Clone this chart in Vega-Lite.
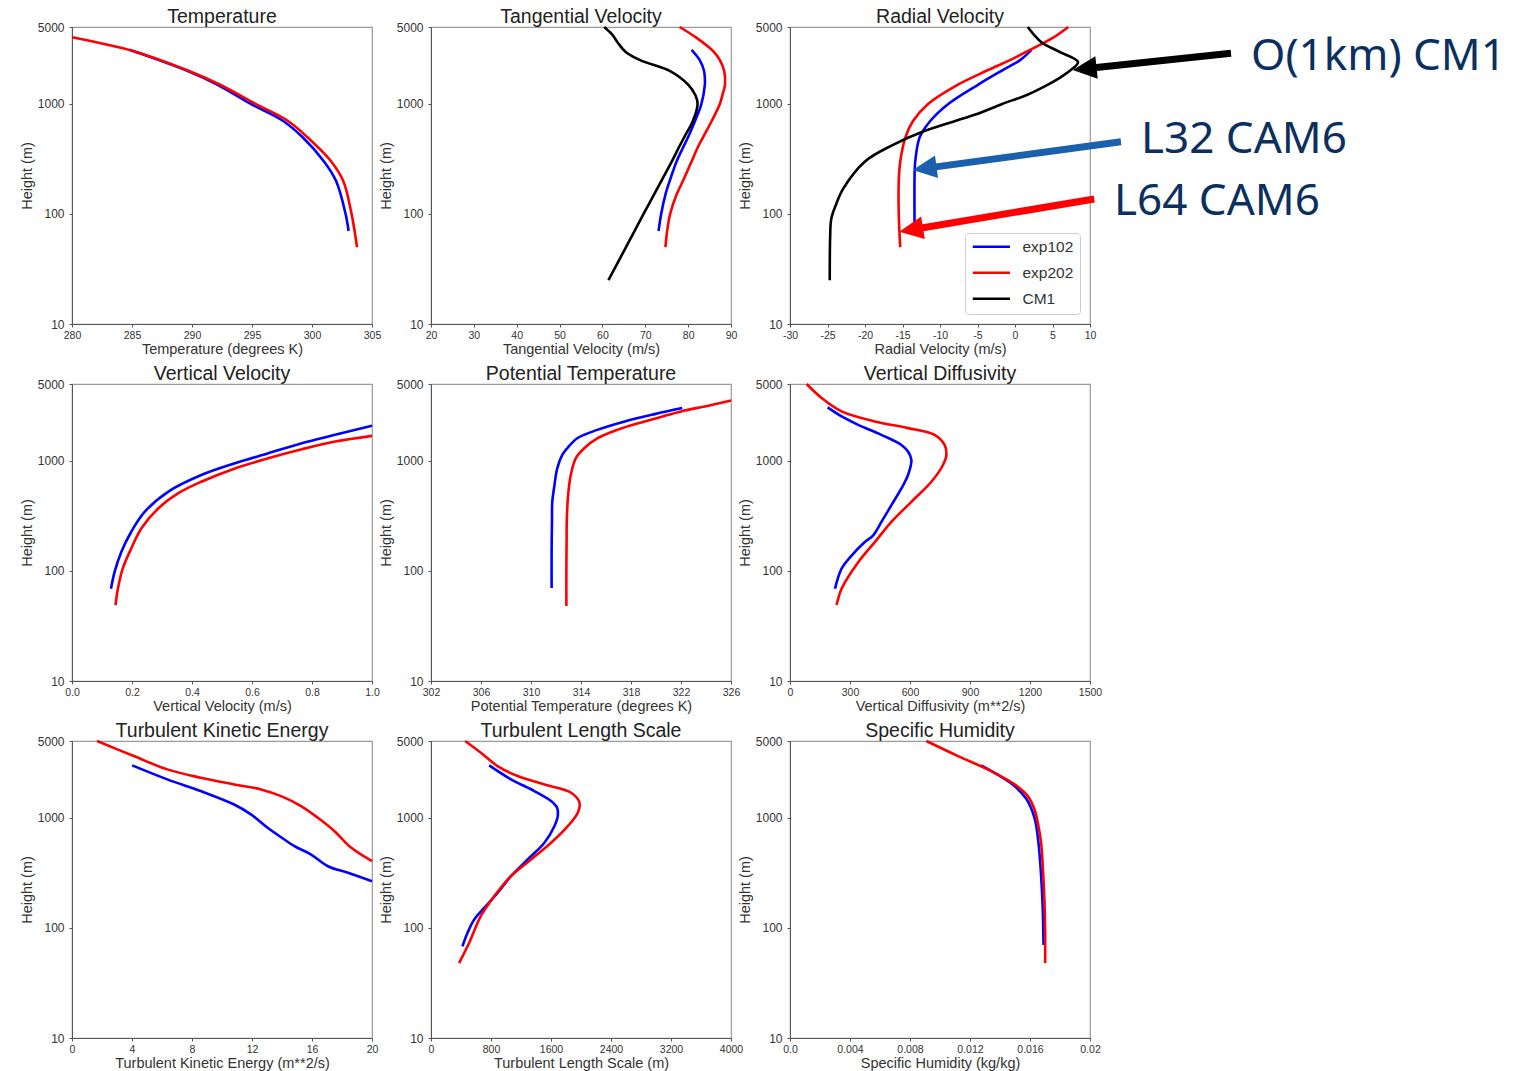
{
  "$schema": "https://vega.github.io/schema/vega-lite/v6.json",
  "background": "white",
  "padding": {"left": 18, "top": 5, "right": 5, "bottom": 3},
  "config": {
    "font": "Liberation Sans",
    "view": {"stroke": "#9a9a9a", "strokeWidth": 1.2},
    "axis": {"labelFont": "Liberation Sans", "labelColor": "#333", "titleFont": "Liberation Sans", "titleFontSize": 14.5, "titleFontWeight": "normal", "titleColor": "#333", "grid": false, "tickSize": 3, "tickColor": "#555", "domainColor": "#555", "labelFlush": false, "labelOverlap": false},
    "axisX": {"labelFontSize": 10.5, "labelPadding": 3, "titlePadding": 2},
    "axisY": {"labelFontSize": 12, "labelPadding": 5, "titlePadding": 3},
    "title": {"font": "Liberation Sans", "fontSize": 19.5, "fontWeight": "normal", "color": "#222", "offset": -6},
    "line": {"strokeWidth": 2.6, "interpolate": "catmull-rom"}
  },
  "datasets": {
    "prof": [
      {"p": "T", "s": "exp102", "h": 3100, "v": 284.8},
      {"p": "T", "s": "exp102", "h": 2000, "v": 289.6},
      {"p": "T", "s": "exp102", "h": 1500, "v": 292.1},
      {"p": "T", "s": "exp102", "h": 1000, "v": 294.9},
      {"p": "T", "s": "exp102", "h": 700, "v": 297.6},
      {"p": "T", "s": "exp102", "h": 500, "v": 299.2},
      {"p": "T", "s": "exp102", "h": 300, "v": 301.0},
      {"p": "T", "s": "exp102", "h": 200, "v": 302.0},
      {"p": "T", "s": "exp102", "h": 100, "v": 302.8},
      {"p": "T", "s": "exp102", "h": 70, "v": 303.05},
      {"p": "T", "s": "exp202", "h": 4030, "v": 280.0},
      {"p": "T", "s": "exp202", "h": 3000, "v": 285.2},
      {"p": "T", "s": "exp202", "h": 2000, "v": 289.7},
      {"p": "T", "s": "exp202", "h": 1500, "v": 292.3},
      {"p": "T", "s": "exp202", "h": 1000, "v": 295.3},
      {"p": "T", "s": "exp202", "h": 700, "v": 298.0},
      {"p": "T", "s": "exp202", "h": 500, "v": 299.6},
      {"p": "T", "s": "exp202", "h": 300, "v": 301.6},
      {"p": "T", "s": "exp202", "h": 200, "v": 302.6},
      {"p": "T", "s": "exp202", "h": 100, "v": 303.3},
      {"p": "T", "s": "exp202", "h": 70, "v": 303.55},
      {"p": "T", "s": "exp202", "h": 50, "v": 303.75},

      {"p": "TV", "s": "exp102", "h": 70, "v": 73.1},
      {"p": "TV", "s": "exp102", "h": 100, "v": 73.7},
      {"p": "TV", "s": "exp102", "h": 150, "v": 74.7},
      {"p": "TV", "s": "exp102", "h": 200, "v": 75.7},
      {"p": "TV", "s": "exp102", "h": 300, "v": 77.3},
      {"p": "TV", "s": "exp102", "h": 400, "v": 78.8},
      {"p": "TV", "s": "exp102", "h": 500, "v": 80.0},
      {"p": "TV", "s": "exp102", "h": 700, "v": 81.6},
      {"p": "TV", "s": "exp102", "h": 1000, "v": 83.1},
      {"p": "TV", "s": "exp102", "h": 1500, "v": 83.9},
      {"p": "TV", "s": "exp102", "h": 1700, "v": 83.9},
      {"p": "TV", "s": "exp102", "h": 2000, "v": 83.7},
      {"p": "TV", "s": "exp102", "h": 2500, "v": 82.7},
      {"p": "TV", "s": "exp102", "h": 3100, "v": 80.8},
      {"p": "TV", "s": "exp202", "h": 50, "v": 74.7},
      {"p": "TV", "s": "exp202", "h": 70, "v": 75.1},
      {"p": "TV", "s": "exp202", "h": 100, "v": 75.8},
      {"p": "TV", "s": "exp202", "h": 150, "v": 77.3},
      {"p": "TV", "s": "exp202", "h": 200, "v": 78.8},
      {"p": "TV", "s": "exp202", "h": 300, "v": 80.8},
      {"p": "TV", "s": "exp202", "h": 400, "v": 82.2},
      {"p": "TV", "s": "exp202", "h": 500, "v": 83.5},
      {"p": "TV", "s": "exp202", "h": 700, "v": 85.5},
      {"p": "TV", "s": "exp202", "h": 1000, "v": 87.4},
      {"p": "TV", "s": "exp202", "h": 1200, "v": 88.0},
      {"p": "TV", "s": "exp202", "h": 1500, "v": 88.6},
      {"p": "TV", "s": "exp202", "h": 2000, "v": 88.4},
      {"p": "TV", "s": "exp202", "h": 2500, "v": 87.4},
      {"p": "TV", "s": "exp202", "h": 3000, "v": 85.9},
      {"p": "TV", "s": "exp202", "h": 4000, "v": 81.9},
      {"p": "TV", "s": "exp202", "h": 5000, "v": 78.0},
      {"p": "TV", "s": "CM1", "h": 25, "v": 61.4},
      {"p": "TV", "s": "CM1", "h": 50, "v": 65.5},
      {"p": "TV", "s": "CM1", "h": 100, "v": 69.6},
      {"p": "TV", "s": "CM1", "h": 200, "v": 73.75},
      {"p": "TV", "s": "CM1", "h": 300, "v": 76.2},
      {"p": "TV", "s": "CM1", "h": 400, "v": 77.8},
      {"p": "TV", "s": "CM1", "h": 500, "v": 79.1},
      {"p": "TV", "s": "CM1", "h": 700, "v": 81.1},
      {"p": "TV", "s": "CM1", "h": 1000, "v": 82.2},
      {"p": "TV", "s": "CM1", "h": 1200, "v": 81.7},
      {"p": "TV", "s": "CM1", "h": 1500, "v": 80.0},
      {"p": "TV", "s": "CM1", "h": 2000, "v": 75.7},
      {"p": "TV", "s": "CM1", "h": 2500, "v": 68.8},
      {"p": "TV", "s": "CM1", "h": 3000, "v": 65.3},
      {"p": "TV", "s": "CM1", "h": 3600, "v": 63.6},
      {"p": "TV", "s": "CM1", "h": 4300, "v": 62.2},
      {"p": "TV", "s": "CM1", "h": 5000, "v": 60.4},

      {"p": "RV", "s": "exp102", "h": 70, "v": -13.4},
      {"p": "RV", "s": "exp102", "h": 100, "v": -13.4},
      {"p": "RV", "s": "exp102", "h": 200, "v": -13.4},
      {"p": "RV", "s": "exp102", "h": 300, "v": -13.3},
      {"p": "RV", "s": "exp102", "h": 500, "v": -12.7},
      {"p": "RV", "s": "exp102", "h": 700, "v": -11.3},
      {"p": "RV", "s": "exp102", "h": 1000, "v": -8.9},
      {"p": "RV", "s": "exp102", "h": 1500, "v": -4.9},
      {"p": "RV", "s": "exp102", "h": 2000, "v": -1.8},
      {"p": "RV", "s": "exp102", "h": 2500, "v": 0.67},
      {"p": "RV", "s": "exp102", "h": 3100, "v": 2.2},
      {"p": "RV", "s": "exp202", "h": 50, "v": -15.3},
      {"p": "RV", "s": "exp202", "h": 100, "v": -15.5},
      {"p": "RV", "s": "exp202", "h": 200, "v": -15.5},
      {"p": "RV", "s": "exp202", "h": 300, "v": -15.3},
      {"p": "RV", "s": "exp202", "h": 500, "v": -14.6},
      {"p": "RV", "s": "exp202", "h": 700, "v": -13.6},
      {"p": "RV", "s": "exp202", "h": 1000, "v": -11.6},
      {"p": "RV", "s": "exp202", "h": 1500, "v": -7.6},
      {"p": "RV", "s": "exp202", "h": 2000, "v": -3.8},
      {"p": "RV", "s": "exp202", "h": 2500, "v": -0.67},
      {"p": "RV", "s": "exp202", "h": 3000, "v": 1.6},
      {"p": "RV", "s": "exp202", "h": 4000, "v": 5.1},
      {"p": "RV", "s": "exp202", "h": 5000, "v": 7.1},
      {"p": "RV", "s": "CM1", "h": 25, "v": -24.7},
      {"p": "RV", "s": "CM1", "h": 60, "v": -24.65},
      {"p": "RV", "s": "CM1", "h": 90, "v": -24.5},
      {"p": "RV", "s": "CM1", "h": 120, "v": -23.9},
      {"p": "RV", "s": "CM1", "h": 170, "v": -22.9},
      {"p": "RV", "s": "CM1", "h": 300, "v": -20.0},
      {"p": "RV", "s": "CM1", "h": 420, "v": -16.4},
      {"p": "RV", "s": "CM1", "h": 570, "v": -12.0},
      {"p": "RV", "s": "CM1", "h": 800, "v": -5.3},
      {"p": "RV", "s": "CM1", "h": 1000, "v": -1.7},
      {"p": "RV", "s": "CM1", "h": 1200, "v": 1.5},
      {"p": "RV", "s": "CM1", "h": 1500, "v": 4.4},
      {"p": "RV", "s": "CM1", "h": 1700, "v": 5.8},
      {"p": "RV", "s": "CM1", "h": 2000, "v": 7.3},
      {"p": "RV", "s": "CM1", "h": 2400, "v": 8.4},
      {"p": "RV", "s": "CM1", "h": 3000, "v": 5.8},
      {"p": "RV", "s": "CM1", "h": 3600, "v": 3.6},
      {"p": "RV", "s": "CM1", "h": 4200, "v": 2.6},
      {"p": "RV", "s": "CM1", "h": 5000, "v": 1.7},

      {"p": "VV", "s": "exp102", "h": 69, "v": 0.130},
      {"p": "VV", "s": "exp102", "h": 98, "v": 0.142},
      {"p": "VV", "s": "exp102", "h": 148, "v": 0.164},
      {"p": "VV", "s": "exp102", "h": 226, "v": 0.197},
      {"p": "VV", "s": "exp102", "h": 344, "v": 0.242},
      {"p": "VV", "s": "exp102", "h": 524, "v": 0.320},
      {"p": "VV", "s": "exp102", "h": 744, "v": 0.431},
      {"p": "VV", "s": "exp102", "h": 951, "v": 0.543},
      {"p": "VV", "s": "exp102", "h": 1172, "v": 0.654},
      {"p": "VV", "s": "exp102", "h": 1448, "v": 0.766},
      {"p": "VV", "s": "exp102", "h": 1725, "v": 0.877},
      {"p": "VV", "s": "exp102", "h": 2084, "v": 1.0},
      {"p": "VV", "s": "exp202", "h": 49, "v": 0.145},
      {"p": "VV", "s": "exp202", "h": 69, "v": 0.153},
      {"p": "VV", "s": "exp202", "h": 105, "v": 0.169},
      {"p": "VV", "s": "exp202", "h": 159, "v": 0.197},
      {"p": "VV", "s": "exp202", "h": 243, "v": 0.231},
      {"p": "VV", "s": "exp202", "h": 369, "v": 0.287},
      {"p": "VV", "s": "exp202", "h": 506, "v": 0.353},
      {"p": "VV", "s": "exp202", "h": 647, "v": 0.431},
      {"p": "VV", "s": "exp202", "h": 855, "v": 0.543},
      {"p": "VV", "s": "exp202", "h": 1057, "v": 0.654},
      {"p": "VV", "s": "exp202", "h": 1276, "v": 0.766},
      {"p": "VV", "s": "exp202", "h": 1500, "v": 0.877},
      {"p": "VV", "s": "exp202", "h": 1690, "v": 1.0},

      {"p": "PT", "s": "exp102", "h": 70, "v": 311.65},
      {"p": "PT", "s": "exp102", "h": 150, "v": 311.65},
      {"p": "PT", "s": "exp102", "h": 300, "v": 311.68},
      {"p": "PT", "s": "exp102", "h": 425, "v": 311.7},
      {"p": "PT", "s": "exp102", "h": 562, "v": 311.84},
      {"p": "PT", "s": "exp102", "h": 855, "v": 312.1},
      {"p": "PT", "s": "exp102", "h": 1133, "v": 312.5},
      {"p": "PT", "s": "exp102", "h": 1303, "v": 312.9},
      {"p": "PT", "s": "exp102", "h": 1607, "v": 313.7},
      {"p": "PT", "s": "exp102", "h": 1914, "v": 315.3},
      {"p": "PT", "s": "exp102", "h": 2284, "v": 317.5},
      {"p": "PT", "s": "exp102", "h": 2662, "v": 319.9},
      {"p": "PT", "s": "exp102", "h": 3020, "v": 322.1},
      {"p": "PT", "s": "exp202", "h": 48, "v": 312.83},
      {"p": "PT", "s": "exp202", "h": 100, "v": 312.83},
      {"p": "PT", "s": "exp202", "h": 200, "v": 312.85},
      {"p": "PT", "s": "exp202", "h": 279, "v": 312.86},
      {"p": "PT", "s": "exp202", "h": 489, "v": 312.97},
      {"p": "PT", "s": "exp202", "h": 744, "v": 313.18},
      {"p": "PT", "s": "exp202", "h": 1057, "v": 313.58},
      {"p": "PT", "s": "exp202", "h": 1303, "v": 314.26},
      {"p": "PT", "s": "exp202", "h": 1607, "v": 315.33},
      {"p": "PT", "s": "exp202", "h": 1914, "v": 316.9},
      {"p": "PT", "s": "exp202", "h": 2284, "v": 319.1},
      {"p": "PT", "s": "exp202", "h": 2818, "v": 322.0},
      {"p": "PT", "s": "exp202", "h": 3126, "v": 323.9},
      {"p": "PT", "s": "exp202", "h": 3548, "v": 326.0},

      {"p": "VD", "s": "exp102", "h": 69, "v": 225},
      {"p": "VD", "s": "exp102", "h": 105, "v": 258},
      {"p": "VD", "s": "exp102", "h": 138, "v": 308},
      {"p": "VD", "s": "exp102", "h": 183, "v": 374},
      {"p": "VD", "s": "exp102", "h": 211, "v": 416},
      {"p": "VD", "s": "exp102", "h": 279, "v": 457},
      {"p": "VD", "s": "exp102", "h": 396, "v": 507},
      {"p": "VD", "s": "exp102", "h": 562, "v": 557},
      {"p": "VD", "s": "exp102", "h": 744, "v": 590},
      {"p": "VD", "s": "exp102", "h": 1020, "v": 607},
      {"p": "VD", "s": "exp102", "h": 1216, "v": 590},
      {"p": "VD", "s": "exp102", "h": 1397, "v": 557},
      {"p": "VD", "s": "exp102", "h": 1725, "v": 457},
      {"p": "VD", "s": "exp102", "h": 2128, "v": 341},
      {"p": "VD", "s": "exp102", "h": 2537, "v": 258},
      {"p": "VD", "s": "exp102", "h": 3062, "v": 188},
      {"p": "VD", "s": "exp202", "h": 49, "v": 233},
      {"p": "VD", "s": "exp202", "h": 69, "v": 258},
      {"p": "VD", "s": "exp202", "h": 120, "v": 341},
      {"p": "VD", "s": "exp202", "h": 183, "v": 424},
      {"p": "VD", "s": "exp202", "h": 279, "v": 507},
      {"p": "VD", "s": "exp202", "h": 425, "v": 607},
      {"p": "VD", "s": "exp202", "h": 647, "v": 707},
      {"p": "VD", "s": "exp202", "h": 918, "v": 765},
      {"p": "VD", "s": "exp202", "h": 1133, "v": 782},
      {"p": "VD", "s": "exp202", "h": 1397, "v": 773},
      {"p": "VD", "s": "exp202", "h": 1725, "v": 723},
      {"p": "VD", "s": "exp202", "h": 1986, "v": 590},
      {"p": "VD", "s": "exp202", "h": 2284, "v": 424},
      {"p": "VD", "s": "exp202", "h": 2818, "v": 258},
      {"p": "VD", "s": "exp202", "h": 3732, "v": 158},
      {"p": "VD", "s": "exp202", "h": 5000, "v": 83},

      {"p": "TKE", "s": "exp102", "h": 266, "v": 20.0},
      {"p": "TKE", "s": "exp102", "h": 317, "v": 18.4},
      {"p": "TKE", "s": "exp102", "h": 364, "v": 17.06},
      {"p": "TKE", "s": "exp102", "h": 465, "v": 15.94},
      {"p": "TKE", "s": "exp102", "h": 553, "v": 14.83},
      {"p": "TKE", "s": "exp102", "h": 637, "v": 14.16},
      {"p": "TKE", "s": "exp102", "h": 813, "v": 13.04},
      {"p": "TKE", "s": "exp102", "h": 1076, "v": 11.93},
      {"p": "TKE", "s": "exp102", "h": 1324, "v": 10.81},
      {"p": "TKE", "s": "exp102", "h": 1754, "v": 8.58},
      {"p": "TKE", "s": "exp102", "h": 2240, "v": 6.35},
      {"p": "TKE", "s": "exp102", "h": 3000, "v": 4.01},
      {"p": "TKE", "s": "exp202", "h": 405, "v": 20.0},
      {"p": "TKE", "s": "exp202", "h": 535, "v": 18.62},
      {"p": "TKE", "s": "exp202", "h": 758, "v": 17.5},
      {"p": "TKE", "s": "exp202", "h": 1002, "v": 16.39},
      {"p": "TKE", "s": "exp202", "h": 1280, "v": 15.27},
      {"p": "TKE", "s": "exp202", "h": 1578, "v": 13.94},
      {"p": "TKE", "s": "exp202", "h": 1815, "v": 12.6},
      {"p": "TKE", "s": "exp202", "h": 2016, "v": 10.81},
      {"p": "TKE", "s": "exp202", "h": 2318, "v": 8.58},
      {"p": "TKE", "s": "exp202", "h": 2761, "v": 6.35},
      {"p": "TKE", "s": "exp202", "h": 3648, "v": 4.12},
      {"p": "TKE", "s": "exp202", "h": 5000, "v": 1.67},

      {"p": "TLS", "s": "exp102", "h": 68, "v": 419},
      {"p": "TLS", "s": "exp102", "h": 90, "v": 486},
      {"p": "TLS", "s": "exp102", "h": 119, "v": 575},
      {"p": "TLS", "s": "exp102", "h": 152, "v": 709},
      {"p": "TLS", "s": "exp102", "h": 208, "v": 887},
      {"p": "TLS", "s": "exp102", "h": 296, "v": 1066},
      {"p": "TLS", "s": "exp102", "h": 419, "v": 1289},
      {"p": "TLS", "s": "exp102", "h": 594, "v": 1512},
      {"p": "TLS", "s": "exp102", "h": 841, "v": 1645},
      {"p": "TLS", "s": "exp102", "h": 1038, "v": 1690},
      {"p": "TLS", "s": "exp102", "h": 1237, "v": 1681},
      {"p": "TLS", "s": "exp102", "h": 1422, "v": 1601},
      {"p": "TLS", "s": "exp102", "h": 1754, "v": 1378},
      {"p": "TLS", "s": "exp102", "h": 2240, "v": 1066},
      {"p": "TLS", "s": "exp102", "h": 3000, "v": 776},
      {"p": "TLS", "s": "exp202", "h": 48, "v": 375},
      {"p": "TLS", "s": "exp202", "h": 73, "v": 508},
      {"p": "TLS", "s": "exp202", "h": 128, "v": 664},
      {"p": "TLS", "s": "exp202", "h": 194, "v": 843},
      {"p": "TLS", "s": "exp202", "h": 296, "v": 1066},
      {"p": "TLS", "s": "exp202", "h": 419, "v": 1333},
      {"p": "TLS", "s": "exp202", "h": 594, "v": 1601},
      {"p": "TLS", "s": "exp202", "h": 841, "v": 1824},
      {"p": "TLS", "s": "exp202", "h": 1114, "v": 1957},
      {"p": "TLS", "s": "exp202", "h": 1374, "v": 1980},
      {"p": "TLS", "s": "exp202", "h": 1694, "v": 1868},
      {"p": "TLS", "s": "exp202", "h": 2016, "v": 1512},
      {"p": "TLS", "s": "exp202", "h": 2400, "v": 1155},
      {"p": "TLS", "s": "exp202", "h": 2960, "v": 887},
      {"p": "TLS", "s": "exp202", "h": 3916, "v": 664},
      {"p": "TLS", "s": "exp202", "h": 5000, "v": 455},

      {"p": "Q", "s": "exp102", "h": 70, "v": 0.0169},
      {"p": "Q", "s": "exp102", "h": 150, "v": 0.01685},
      {"p": "Q", "s": "exp102", "h": 300, "v": 0.01674},
      {"p": "Q", "s": "exp102", "h": 600, "v": 0.01656},
      {"p": "Q", "s": "exp102", "h": 1000, "v": 0.0163},
      {"p": "Q", "s": "exp102", "h": 1500, "v": 0.01574},
      {"p": "Q", "s": "exp102", "h": 2000, "v": 0.01486},
      {"p": "Q", "s": "exp102", "h": 3000, "v": 0.01275},
      {"p": "Q", "s": "exp202", "h": 48, "v": 0.01701},
      {"p": "Q", "s": "exp202", "h": 90, "v": 0.01701},
      {"p": "Q", "s": "exp202", "h": 181, "v": 0.01696},
      {"p": "Q", "s": "exp202", "h": 364, "v": 0.01685},
      {"p": "Q", "s": "exp202", "h": 594, "v": 0.01674},
      {"p": "Q", "s": "exp202", "h": 903, "v": 0.01652},
      {"p": "Q", "s": "exp202", "h": 1194, "v": 0.0163},
      {"p": "Q", "s": "exp202", "h": 1578, "v": 0.01585},
      {"p": "Q", "s": "exp202", "h": 2016, "v": 0.01497},
      {"p": "Q", "s": "exp202", "h": 2667, "v": 0.01341},
      {"p": "Q", "s": "exp202", "h": 3648, "v": 0.0112},
      {"p": "Q", "s": "exp202", "h": 5000, "v": 0.00909}
    ],
    "arrows": [
      {"name": "CM1", "v": 28.8, "h": 2884, "v2": 9.28, "h2": 2088},
      {"name": "L32", "v": 14.13, "h": 453.5, "v2": -12.05, "h2": 259.4},
      {"name": "L64", "v": 10.57, "h": 136.8, "v2": -13.85, "h2": 71.9}
    ],
    "heads": [
      {"name": "CM1", "v": 9.28, "h": 2088},
      {"name": "L32", "v": -12.05, "h": 259.4},
      {"name": "L64", "v": -13.85, "h": 71.9}
    ],
    "notes": [
      {"label": "O(1km) CM1", "v": 31.47, "h": 2034},
      {"label": "L32 CAM6", "v": 16.8, "h": 355.8},
      {"label": "L64 CAM6", "v": 13.2, "h": 97.8}
    ]
  },
  "columns": 3,
  "spacing": {"row": 60, "column": 59},
  "bounds": "flush",
  "resolve": {"scale": {"color": "independent", "x": "independent", "y": "independent"}, "legend": {"color": "independent"}},
  "concat": [
    {
      "width": 300, "height": 297,
      "title": "Temperature",
      "data": {"name": "prof"},
      "transform": [{"filter": "datum.p === 'T'"}],
      "mark": {"type": "line"},
      "encoding": {
        "x": {"field": "v", "type": "quantitative", "scale": {"domain": [280, 305], "nice": false, "zero": false}, "axis": {"title": "Temperature (degrees K)", "values": [280, 285, 290, 295, 300, 305]}},
        "y": {"field": "h", "type": "quantitative", "scale": {"type": "log", "domain": [10, 5000], "nice": false}, "axis": {"title": "Height (m)", "values": [10, 100, 1000, 5000], "format": "d"}},
        "color": {"field": "s", "type": "nominal", "scale": {"domain": ["exp102", "exp202", "CM1"], "range": ["#0000ff", "#ff0000", "#000000"]}, "legend": null},
        "order": {"field": "h", "type": "quantitative"}
      }
    },
    {
      "width": 300, "height": 297,
      "title": "Tangential Velocity",
      "data": {"name": "prof"},
      "transform": [{"filter": "datum.p === 'TV'"}],
      "mark": {"type": "line"},
      "encoding": {
        "x": {"field": "v", "type": "quantitative", "scale": {"domain": [20, 90], "nice": false, "zero": false}, "axis": {"title": "Tangential Velocity (m/s)", "values": [20, 30, 40, 50, 60, 70, 80, 90]}},
        "y": {"field": "h", "type": "quantitative", "scale": {"type": "log", "domain": [10, 5000], "nice": false}, "axis": {"title": "Height (m)", "values": [10, 100, 1000, 5000], "format": "d"}},
        "color": {"field": "s", "type": "nominal", "scale": {"domain": ["exp102", "exp202", "CM1"], "range": ["#0000ff", "#ff0000", "#000000"]}, "legend": null},
        "order": {"field": "h", "type": "quantitative"}
      }
    },
    {
      "width": 300, "height": 297,
      "title": "Radial Velocity",
      "encoding": {
        "x": {"field": "v", "type": "quantitative", "scale": {"domain": [-30, 10], "nice": false, "zero": false}, "axis": {"title": "Radial Velocity (m/s)", "values": [-30, -25, -20, -15, -10, -5, 0, 5, 10], "labelExpr": "datum.value < 0 ? '-' + (-datum.value) : '' + datum.value"}},
        "y": {"field": "h", "type": "quantitative", "scale": {"type": "log", "domain": [10, 5000], "nice": false}, "axis": {"title": "Height (m)", "values": [10, 100, 1000, 5000], "format": "d"}}
      },
      "layer": [
        {
          "data": {"name": "prof"},
          "transform": [{"filter": "datum.p === 'RV'"}],
          "mark": {"type": "line"},
          "encoding": {
            "color": {"field": "s", "type": "nominal", "scale": {"domain": ["exp102", "exp202", "CM1"], "range": ["#0000ff", "#ff0000", "#000000"]},
              "legend": {"title": null, "orient": "bottom-right", "offset": 10, "fillColor": "white", "strokeColor": "#cccccc", "cornerRadius": 3, "padding": 6, "rowPadding": 9, "symbolType": "M -1 0 L 5.2 0", "symbolSize": 144, "symbolStrokeWidth": 2.5, "labelFontSize": 15.5, "labelFont": "Liberation Sans", "labelColor": "#333", "labelOffset": 36}},
            "order": {"field": "h", "type": "quantitative"}
          }
        },
        {
          "data": {"name": "arrows"},
          "mark": {"type": "rule", "strokeWidth": 7, "strokeCap": "butt"},
          "encoding": {
            "x2": {"field": "v2"},
            "y2": {"field": "h2"},
            "stroke": {"field": "name", "type": "nominal", "scale": {"domain": ["CM1", "L32", "L64"], "range": ["#000000", "#1b60ad", "#ff0000"]}, "legend": null}
          }
        },
        {
          "data": {"name": "heads"},
          "transform": [{"filter": "datum.name === 'CM1'"}],
          "mark": {"type": "point", "shape": "M -1 0 L 1 -0.95 L 1 0.95 Z", "size": 576, "angle": 354, "filled": true, "fill": "#000000", "strokeWidth": 0, "opacity": 1}
        },
        {
          "data": {"name": "heads"},
          "transform": [{"filter": "datum.name === 'L32'"}],
          "mark": {"type": "point", "shape": "M -1 0 L 1 -0.95 L 1 0.95 Z", "size": 576, "angle": 352.3, "filled": true, "fill": "#1b60ad", "strokeWidth": 0, "opacity": 1}
        },
        {
          "data": {"name": "heads"},
          "transform": [{"filter": "datum.name === 'L64'"}],
          "mark": {"type": "point", "shape": "M -1 0 L 1 -0.95 L 1 0.95 Z", "size": 576, "angle": 350.5, "filled": true, "fill": "#ff0000", "strokeWidth": 0, "opacity": 1}
        },
        {
          "data": {"name": "notes"},
          "mark": {"type": "text", "align": "left", "baseline": "alphabetic", "fontSize": 44, "font": "Noto Sans", "color": "#0b2f5e"},
          "encoding": {
            "text": {"field": "label"}
          }
        }
      ]
    },
    {
      "width": 300, "height": 297,
      "title": "Vertical Velocity",
      "data": {"name": "prof"},
      "transform": [{"filter": "datum.p === 'VV'"}],
      "mark": {"type": "line"},
      "encoding": {
        "x": {"field": "v", "type": "quantitative", "scale": {"domain": [0, 1], "nice": false, "zero": false}, "axis": {"title": "Vertical Velocity (m/s)", "values": [0, 0.2, 0.4, 0.6, 0.8, 1.0], "format": ".1f"}},
        "y": {"field": "h", "type": "quantitative", "scale": {"type": "log", "domain": [10, 5000], "nice": false}, "axis": {"title": "Height (m)", "values": [10, 100, 1000, 5000], "format": "d"}},
        "color": {"field": "s", "type": "nominal", "scale": {"domain": ["exp102", "exp202", "CM1"], "range": ["#0000ff", "#ff0000", "#000000"]}, "legend": null},
        "order": {"field": "h", "type": "quantitative"}
      }
    },
    {
      "width": 300, "height": 297,
      "title": "Potential Temperature",
      "data": {"name": "prof"},
      "transform": [{"filter": "datum.p === 'PT'"}],
      "mark": {"type": "line"},
      "encoding": {
        "x": {"field": "v", "type": "quantitative", "scale": {"domain": [302, 326], "nice": false, "zero": false}, "axis": {"title": "Potential Temperature (degrees K)", "values": [302, 306, 310, 314, 318, 322, 326]}},
        "y": {"field": "h", "type": "quantitative", "scale": {"type": "log", "domain": [10, 5000], "nice": false}, "axis": {"title": "Height (m)", "values": [10, 100, 1000, 5000], "format": "d"}},
        "color": {"field": "s", "type": "nominal", "scale": {"domain": ["exp102", "exp202", "CM1"], "range": ["#0000ff", "#ff0000", "#000000"]}, "legend": null},
        "order": {"field": "h", "type": "quantitative"}
      }
    },
    {
      "width": 300, "height": 297,
      "title": "Vertical Diffusivity",
      "data": {"name": "prof"},
      "transform": [{"filter": "datum.p === 'VD'"}],
      "mark": {"type": "line"},
      "encoding": {
        "x": {"field": "v", "type": "quantitative", "scale": {"domain": [0, 1500], "nice": false, "zero": false}, "axis": {"title": "Vertical Diffusivity (m**2/s)", "values": [0, 300, 600, 900, 1200, 1500], "format": "d"}},
        "y": {"field": "h", "type": "quantitative", "scale": {"type": "log", "domain": [10, 5000], "nice": false}, "axis": {"title": "Height (m)", "values": [10, 100, 1000, 5000], "format": "d"}},
        "color": {"field": "s", "type": "nominal", "scale": {"domain": ["exp102", "exp202", "CM1"], "range": ["#0000ff", "#ff0000", "#000000"]}, "legend": null},
        "order": {"field": "h", "type": "quantitative"}
      }
    },
    {
      "width": 300, "height": 297,
      "title": "Turbulent Kinetic Energy",
      "data": {"name": "prof"},
      "transform": [{"filter": "datum.p === 'TKE'"}],
      "mark": {"type": "line"},
      "encoding": {
        "x": {"field": "v", "type": "quantitative", "scale": {"domain": [0, 20], "nice": false, "zero": false}, "axis": {"title": "Turbulent Kinetic Energy (m**2/s)", "values": [0, 4, 8, 12, 16, 20]}},
        "y": {"field": "h", "type": "quantitative", "scale": {"type": "log", "domain": [10, 5000], "nice": false}, "axis": {"title": "Height (m)", "values": [10, 100, 1000, 5000], "format": "d"}},
        "color": {"field": "s", "type": "nominal", "scale": {"domain": ["exp102", "exp202", "CM1"], "range": ["#0000ff", "#ff0000", "#000000"]}, "legend": null},
        "order": {"field": "h", "type": "quantitative"}
      }
    },
    {
      "width": 300, "height": 297,
      "title": "Turbulent Length Scale",
      "data": {"name": "prof"},
      "transform": [{"filter": "datum.p === 'TLS'"}],
      "mark": {"type": "line"},
      "encoding": {
        "x": {"field": "v", "type": "quantitative", "scale": {"domain": [0, 4000], "nice": false, "zero": false}, "axis": {"title": "Turbulent Length Scale (m)", "values": [0, 800, 1600, 2400, 3200, 4000], "format": "d"}},
        "y": {"field": "h", "type": "quantitative", "scale": {"type": "log", "domain": [10, 5000], "nice": false}, "axis": {"title": "Height (m)", "values": [10, 100, 1000, 5000], "format": "d"}},
        "color": {"field": "s", "type": "nominal", "scale": {"domain": ["exp102", "exp202", "CM1"], "range": ["#0000ff", "#ff0000", "#000000"]}, "legend": null},
        "order": {"field": "h", "type": "quantitative"}
      }
    },
    {
      "width": 300, "height": 297,
      "title": "Specific Humidity",
      "data": {"name": "prof"},
      "transform": [{"filter": "datum.p === 'Q'"}],
      "mark": {"type": "line"},
      "encoding": {
        "x": {"field": "v", "type": "quantitative", "scale": {"domain": [0, 0.02], "nice": false, "zero": false}, "axis": {"title": "Specific Humidity (kg/kg)", "values": [0, 0.004, 0.008, 0.012, 0.016, 0.02], "labelExpr": "datum.value === 0 ? '0.0' : (datum.value >= 0.0199 ? '0.02' : format(datum.value, '.3f'))"}},
        "y": {"field": "h", "type": "quantitative", "scale": {"type": "log", "domain": [10, 5000], "nice": false}, "axis": {"title": "Height (m)", "values": [10, 100, 1000, 5000], "format": "d"}},
        "color": {"field": "s", "type": "nominal", "scale": {"domain": ["exp102", "exp202", "CM1"], "range": ["#0000ff", "#ff0000", "#000000"]}, "legend": null},
        "order": {"field": "h", "type": "quantitative"}
      }
    }
  ]
}
